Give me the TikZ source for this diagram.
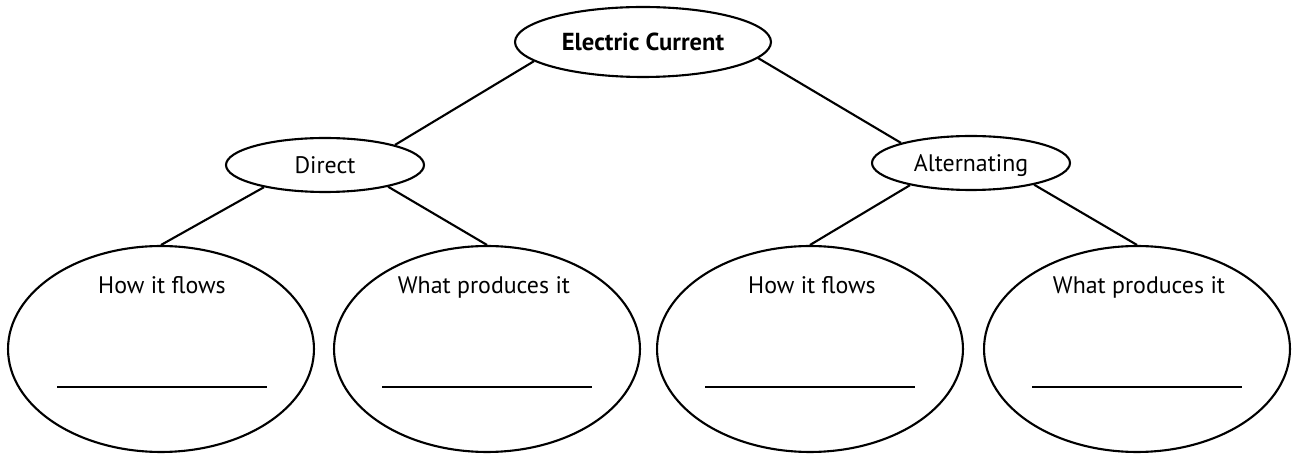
\documentclass[tikz,border=0pt]{standalone}
\usepackage{fontspec}
\setmainfont{PT Sans}
\usepackage{tikz}
\usetikzlibrary{shapes.geometric}

\begin{document}
\begin{tikzpicture}[x=0.02cm, y=-0.02cm, font=\fontsize{13.6}{16}\selectfont,
  oval/.style={ellipse, draw, line width=1.2pt, inner sep=0pt, text depth=0pt},
  topoval/.style={oval, minimum width=5.12cm, minimum height=1.4cm, font=\fontsize{14}{16}\selectfont\bfseries},
  midoval/.style={oval, minimum width=3.96cm, minimum height=1.08cm},
  bigoval/.style={oval, minimum width=6.12cm, minimum height=4.12cm},
  link/.style={line width=1.2pt},
  blank/.style={line width=1.5pt}]
  \useasboundingbox (0,0) rectangle (1295,455);
  % top level
  \node[topoval] (current) at (643,42) {Electric Current};
  \node[midoval] (direct) at (325,165) {Direct};
  \node[midoval] (alt) at (971,163) {Alternating};
  % bottom ovals
  \node[bigoval] (dflow) at (161,349) {};
  \node[bigoval] (dsource) at (487,349) {};
  \node[bigoval] (aflow) at (810,349) {};
  \node[bigoval] (asource) at (1137,349) {};
  \node[anchor=base] (dflowlbl) at (162,294) {How it flows};
  \node[anchor=base] (dsourcelbl) at (484,294) {What produces it};
  \node[anchor=base] (aflowlbl) at (812,294) {How it flows};
  \node[anchor=base] (asourcelbl) at (1139,294) {What produces it};
  % answer lines
  \draw[blank] (57,387) -- (267,387);
  \draw[blank] (382,387) -- (592,387);
  \draw[blank] (705,387) -- (915,387);
  \draw[blank] (1032,387) -- (1242,387);
  % connectors
  \draw[link] (current.190) -- (direct.16);
  \draw[link] (current.-8) -- (alt.164);
  \draw[link] (direct.200) -- (dflow.north);
  \draw[link] (direct.-19) -- (dsource.north);
  \draw[link] (alt.200) -- (aflow.north);
  \draw[link] (alt.-19) -- (asource.north);
\end{tikzpicture}
\end{document}
